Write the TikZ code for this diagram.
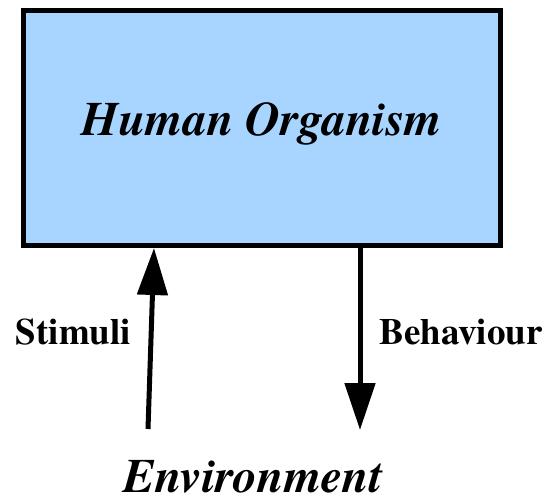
\documentclass[tikz,border=0pt]{standalone}
\usepackage{fontspec}
\newfontfamily\timesf{texgyretermes}[Extension=.otf,UprightFont=*-regular,BoldFont=*-bold,ItalicFont=*-italic,BoldItalicFont=*-bolditalic]
\usetikzlibrary{arrows.meta}
\definecolor{boxblue}{RGB}{168,213,255}
\begin{document}
\begin{tikzpicture}[x=1pt,y=-1pt,
  orgbox/.style={draw=black,fill=boxblue,line width=5pt,minimum width=477pt,minimum height=235pt,inner sep=0pt},
  titletext/.style={font=\timesf\fontsize{48}{52}\selectfont\bfseries\itshape,inner sep=0pt,anchor=base},
  envtext/.style={font=\timesf\fontsize{48}{52}\selectfont\bfseries\itshape,inner sep=0pt,anchor=base},
  labeltext/.style={font=\timesf\fontsize{37}{40}\selectfont\bfseries,inner sep=0pt,anchor=base},
  flow/.style={line width=5pt,-{Triangle[length=47pt,width=30pt]}}]
\useasboundingbox (0,0) rectangle (546,501);
\node[orgbox] (box) at (262,128) {};
\node[titletext] (title) at (262,135) {Human Organism};
\node[envtext] (env) at (253,492) {Environment};
\node[labeltext] (stim) at (73.5,344) {Stimuli};
\node[labeltext] (beh) at (461,344) {Behaviour};
\coordinate (s0) at (148,429);
\coordinate (s1) at (154,248);
\coordinate (b0) at (360,246);
\coordinate (b1) at (360,430);
\draw[flow] (s0) -- (s1);
\draw[flow] (b0) -- (b1);
\end{tikzpicture}
\end{document}
